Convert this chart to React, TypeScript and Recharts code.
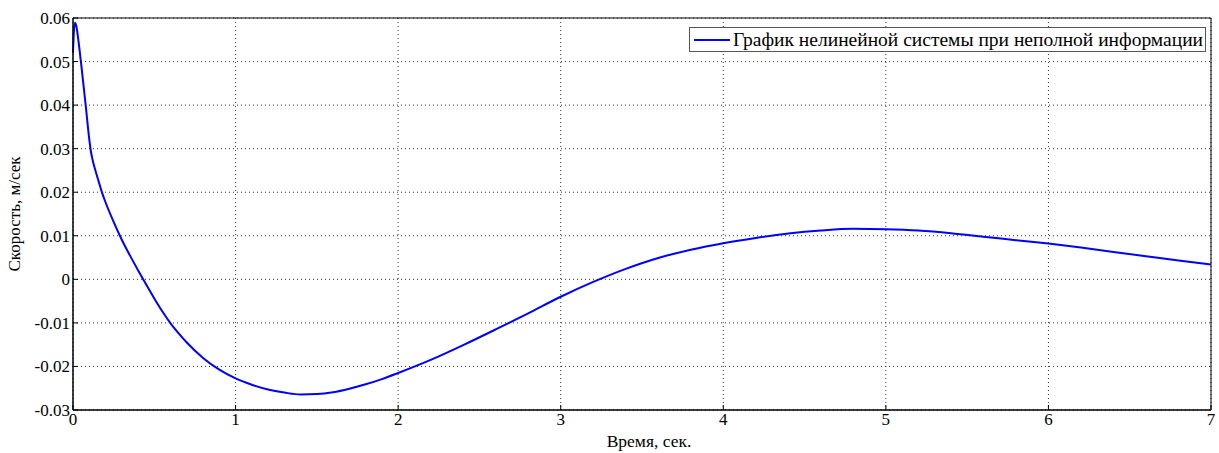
import { LineChart, Line, XAxis, YAxis, CartesianGrid, ReferenceArea } from 'recharts';

const time = [
  0, 0.005, 0.012, 0.02, 0.03, 0.04, 0.05, 0.078, 0.1, 0.11, 0.12, 0.13, 0.14, 0.16, 0.176,
  0.2, 0.25, 0.3, 0.35, 0.4, 0.45, 0.5, 0.55, 0.6, 0.65, 0.7, 0.8, 0.9, 1.0, 1.1, 1.2, 1.3,
  1.4, 1.5, 1.6, 1.7, 1.8, 1.9, 2.0, 2.2, 2.4, 2.6, 2.8, 3.0, 3.2, 3.4, 3.6, 3.8, 4.0, 4.2,
  4.4, 4.6, 4.8, 5.0, 5.2, 5.4, 5.6, 5.8, 6.0, 6.2, 6.4, 6.6, 6.8, 7.0,
];
const speed = [
  0.052, 0.0566, 0.0589, 0.0582, 0.0558, 0.0528, 0.0495, 0.04, 0.0322, 0.0294, 0.0275,
  0.026, 0.0247, 0.0222, 0.0202, 0.0177, 0.0132, 0.0091, 0.0055, 0.0021, -0.0012, -0.0044,
  -0.0074, -0.0101, -0.0124, -0.0145, -0.01805, -0.02075, -0.02275, -0.0242, -0.0253,
  -0.026, -0.02645, -0.02635, -0.0259, -0.0251, -0.0241, -0.0229, -0.0215, -0.0185, -0.0151,
  -0.0115, -0.0078, -0.004, -0.0006, 0.0024, 0.0049, 0.0068, 0.0083, 0.0095, 0.0105, 0.0112,
  0.0116, 0.0115, 0.0112, 0.0106, 0.0098, 0.009, 0.0082, 0.0073, 0.0063, 0.0053, 0.0043,
  0.0034,
];
const xTicks = [0, 1, 2, 3, 4, 5, 6, 7];
const yTicks = [-0.03, -0.02, -0.01, 0, 0.01, 0.02, 0.03, 0.04, 0.05, 0.06];

const seriesName = 'График нелинейной системы при неполной информации';

const data = time.map((t, i) => ({ t, v: speed[i] }));

const font = '"Liberation Serif", "Times New Roman", serif';

// legend drawn over the plot, like MATLAB's box in the north-east corner
function LegendBox() {
  return (
    <div
      style={{
        position: 'absolute',
        top: 27,
        left: 689,
        width: 517,
        height: 25,
        boxSizing: 'border-box',
        display: 'flex',
        alignItems: 'center',
        border: '1px solid #555',
        background: '#fff',
        padding: '0 4px',
        fontFamily: font,
        fontSize: 19.5,
        color: '#000',
        whiteSpace: 'nowrap',
      }}
    >
      <svg width={36} height={10} style={{ marginRight: 3, flex: 'none' }}>
        <line x1={0} y1={5} x2={36} y2={5} stroke="#0000ff" strokeWidth={2} />
      </svg>
      {seriesName}
    </div>
  );
}

export default function App() {
  return (
    <div style={{ position: 'absolute', left: 0, top: 0, width: 1219, height: 453, background: '#fff' }}>
      <LineChart
        width={1219}
        height={453}
        data={data}
        margin={{ top: 18, right: 8, left: 0, bottom: 0 }}
      >
        <CartesianGrid stroke="#333" strokeDasharray="1 3" strokeWidth={1} />
        <XAxis
          dataKey="t"
          type="number"
          domain={[0, 7]}
          ticks={xTicks}
          height={43}
          axisLine={{ stroke: '#000' }}
          tickLine={{ stroke: '#000' }}
          tickSize={-5}
          tickMargin={8}
          tick={{ fill: '#000', fontSize: 17, fontFamily: font }}
          label={{
            value: 'Время, сек.',
            position: 'insideBottom',
            offset: 6,
            dx: 7,
            style: { fontFamily: font, fontSize: 17.5, fill: '#000' },
          }}
        />
        <YAxis
          type="number"
          domain={[-0.03, 0.06]}
          ticks={yTicks}
          width={73}
          axisLine={{ stroke: '#000' }}
          tickLine={{ stroke: '#000' }}
          tickSize={-5}
          tickMargin={8}
          tickFormatter={(v: number) => (v === 0 ? '0' : v.toFixed(2))}
          tick={{ fill: '#000', fontSize: 17, fontFamily: font }}
          label={{
            value: 'Скорость, м/сек',
            angle: -90,
            position: 'insideLeft',
            offset: 14,
            style: { textAnchor: 'middle', fontFamily: font, fontSize: 17, fill: '#000' },
          }}
        />
        <ReferenceArea
          x1={0}
          x2={7}
          y1={-0.03}
          y2={0.06}
          fill="none"
          stroke="#000"
          strokeWidth={1}
          ifOverflow="visible"
        />
        <Line
          type="monotone"
          dataKey="v"
          name={seriesName}
          stroke="#0000ff"
          strokeWidth={2}
          dot={false}
          isAnimationActive={false}
        />
      </LineChart>
      <LegendBox />
    </div>
  );
}
